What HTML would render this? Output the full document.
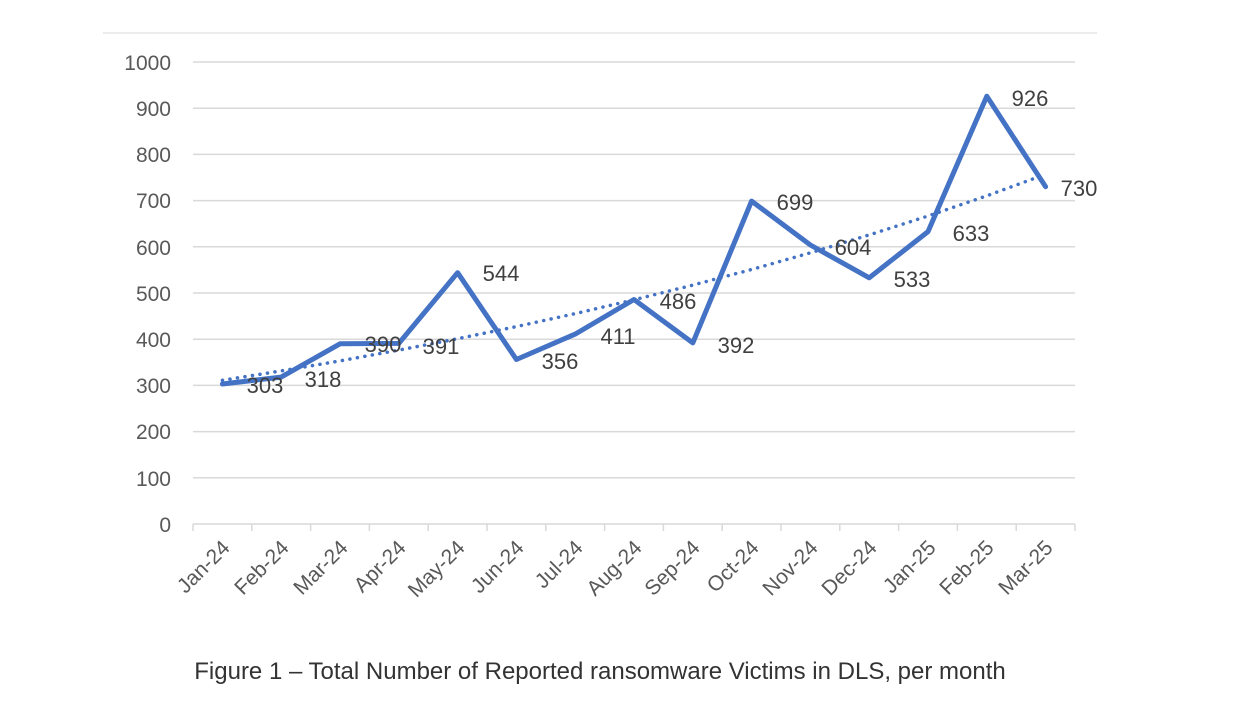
<!DOCTYPE html>
<html><head><meta charset="utf-8"><style>
html,body{margin:0;padding:0;background:#fff;}
svg text{font-family:"Liberation Sans",sans-serif;}
</style></head><body>
<svg width="1240" height="697" viewBox="0 0 1240 697" xmlns="http://www.w3.org/2000/svg">
<line x1="103" y1="33" x2="1097" y2="33" stroke="#e6e6e6" stroke-width="1.5"/>
<g stroke="#d9d9d9" stroke-width="1.5">
<line x1="193" y1="62" x2="1075" y2="62"/>
<line x1="193" y1="108.2" x2="1075" y2="108.2"/>
<line x1="193" y1="154.4" x2="1075" y2="154.4"/>
<line x1="193" y1="200.6" x2="1075" y2="200.6"/>
<line x1="193" y1="246.8" x2="1075" y2="246.8"/>
<line x1="193" y1="293" x2="1075" y2="293"/>
<line x1="193" y1="339.2" x2="1075" y2="339.2"/>
<line x1="193" y1="385.4" x2="1075" y2="385.4"/>
<line x1="193" y1="431.6" x2="1075" y2="431.6"/>
<line x1="193" y1="477.8" x2="1075" y2="477.8"/>
<line x1="193" y1="524" x2="1075" y2="524"/>
<line x1="193" y1="524" x2="193" y2="531"/><line x1="251.8" y1="524" x2="251.8" y2="531"/><line x1="310.6" y1="524" x2="310.6" y2="531"/><line x1="369.4" y1="524" x2="369.4" y2="531"/><line x1="428.2" y1="524" x2="428.2" y2="531"/><line x1="487" y1="524" x2="487" y2="531"/><line x1="545.8" y1="524" x2="545.8" y2="531"/><line x1="604.6" y1="524" x2="604.6" y2="531"/><line x1="663.4" y1="524" x2="663.4" y2="531"/><line x1="722.2" y1="524" x2="722.2" y2="531"/><line x1="781" y1="524" x2="781" y2="531"/><line x1="839.8" y1="524" x2="839.8" y2="531"/><line x1="898.6" y1="524" x2="898.6" y2="531"/><line x1="957.4" y1="524" x2="957.4" y2="531"/><line x1="1016.2" y1="524" x2="1016.2" y2="531"/><line x1="1075" y1="524" x2="1075" y2="531"/>
</g>
<g font-size="21" fill="#595959" text-anchor="end">
<text x="171" y="70">1000</text><text x="171" y="116">900</text><text x="171" y="162">800</text><text x="171" y="208">700</text><text x="171" y="255">600</text><text x="171" y="301">500</text><text x="171" y="347">400</text><text x="171" y="393">300</text><text x="171" y="439">200</text><text x="171" y="486">100</text><text x="171" y="532">0</text>
</g>
<g font-size="21" fill="#595959" text-anchor="end">
<text transform="translate(231,549) rotate(-45)">Jan-24</text>
<text transform="translate(290,549) rotate(-45)">Feb-24</text>
<text transform="translate(349,549) rotate(-45)">Mar-24</text>
<text transform="translate(407,549) rotate(-45)">Apr-24</text>
<text transform="translate(466,549) rotate(-45)">May-24</text>
<text transform="translate(525,549) rotate(-45)">Jun-24</text>
<text transform="translate(584,549) rotate(-45)">Jul-24</text>
<text transform="translate(643,549) rotate(-45)">Aug-24</text>
<text transform="translate(701,549) rotate(-45)">Sep-24</text>
<text transform="translate(760,549) rotate(-45)">Oct-24</text>
<text transform="translate(819,549) rotate(-45)">Nov-24</text>
<text transform="translate(878,549) rotate(-45)">Dec-24</text>
<text transform="translate(937,549) rotate(-45)">Jan-25</text>
<text transform="translate(995,549) rotate(-45)">Feb-25</text>
<text transform="translate(1054,549) rotate(-45)">Mar-25</text>
</g>
<polyline fill="none" stroke="#4472C4" stroke-width="5" stroke-linejoin="round" stroke-linecap="round" points="222.4,384 281.2,377.1 340,343.8 398.8,343.4 457.6,272.7 516.4,359.5 575.2,334.1 634,299.5 692.8,342.9 751.6,201.1 810.4,245 869.2,277.8 928,231.6 986.8,96.2 1045.6,186.7"/>
<polyline fill="none" stroke="#4472C4" stroke-width="3.5" stroke-dasharray="0.1 7.5" stroke-linecap="round" points="222.4,380.3 281.2,370.9 340,360.9 398.8,350.1 457.6,338.7 516.4,326.6 575.2,313.6 634,299.8 692.8,285.1 751.6,269.5 810.4,252.8 869.2,234.9 928,216 986.8,195.8 1045.6,174.3"/>
<g font-size="22" fill="#404040" text-anchor="middle">
<text x="265" y="393">303</text><text x="323" y="387">318</text><text x="383" y="352">390</text><text x="441" y="354">391</text><text x="501" y="281">544</text><text x="560" y="369">356</text><text x="618" y="344">411</text><text x="678" y="309">486</text><text x="736" y="353">392</text><text x="795" y="210">699</text><text x="853" y="255">604</text><text x="912" y="287">533</text><text x="971" y="241">633</text><text x="1030" y="106">926</text><text x="1079" y="196">730</text>
</g>
<text x="600" y="679" font-size="24" fill="#333" text-anchor="middle">Figure 1 – Total Number of Reported ransomware Victims in DLS, per month</text>
</svg>
</body></html>
